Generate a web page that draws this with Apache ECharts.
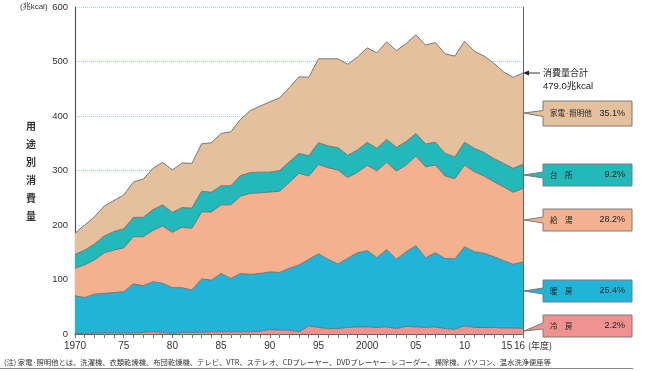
<!DOCTYPE html>
<html><head><meta charset="utf-8">
<script src="https://cdn.jsdelivr.net/npm/echarts@6/dist/echarts.min.js"></script>
<style>html,body{margin:0;padding:0;background:#fff}#c{width:650px;height:371px}</style>
</head><body><div id="c"></div>
<script>
const years = [];
for (let y = 1970; y <= 2016; y++) years.push(String(y));
const yTicks = [0, 100, 200, 300, 400, 500, 600];
// 冷房 (cooling)
const cooling = [1,1,1.5,2,2,2,2,3,4,3,1,3,3,3,4,4,4,4,4,5,8,7,7,4,15,12,10,10,12,13,13,12,13,10,14,13,12,13,10,8.6,15,12,12,12,11,11,10.5];
// 暖房 (heating)
const heating = [69,66,71.5,72.6,74,75.6,90,85.7,92,90,84,82,77.7,98,95,107,98,107,105.5,106,106,106,113.5,122.6,122,135,127,118.4,127,136,140,128,142,127,137,149,128,136,128.5,129.4,145,139,136,130,123.6,117,121.7];
// 給湯 (hot water)
const hotWater = [50.5,60,63,74.4,78,80.4,86.5,89.8,94,105,101.6,111,113.3,123,125,126,135,142,148.5,148,146.5,149,157.5,168.4,153,164,168,172.6,148,147.6,156.5,159.7,160,162,159,164.6,167,161,151.5,147,150,146.8,142,137.5,135.4,132,135.1];
// 台所 (kitchen)
const kitchen = [25.5,27,29,31,34,35,35.5,35.5,38,39,36.4,36,37,38,36,35,35,38,38,38,36.5,38,38,36.5,37,40,40,41,41,41,42.2,41,42,43.5,43,41.4,41.6,41.7,41.5,40,41.7,42.9,43,42.5,43,44,44.1];
// 家電・照明他 (appliances & lighting)
const appliances = [39,46,50,55,57,62,65,70,76,78,78,82,82,87,91,96,99,103,114,121,129,133,136,140.5,144,154,160,163,167,170.4,173.3,175.3,179,177.5,180,181,181.4,183.3,182.5,185,185.3,178.3,177,175,168,167,167.6];

const names = ['冷房','暖房','給湯','台所','家電・照明他'];
const colors = ['#f09290','#20b5d8','#f4b18f','#23b8b9','#e4c09c'];
const seriesData = [cooling, heating, hotWater, kitchen, appliances];

const FONT = '"Noto Sans CJK JP", "Noto Sans", sans-serif';
const LAT = '"Liberation Sans", "Noto Sans CJK JP", sans-serif';
const chart = echarts.init(document.getElementById('c'), null, {renderer:'canvas'});

function callout(tipY, top, bottom, fill, label, pct) {
  const mid = (top + bottom) / 2;
  return [
    {type:'polygon', shape:{points:[[524,tipY],[543,mid-3],[543,top],[632,top],[632,bottom],[543,bottom],[543,mid+3]]},
     style:{fill:fill, stroke:'#7a7a7a', lineWidth:1}, z:10},
    {type:'text', x:550, y:mid, style:{text:label, font:'7.5px '+FONT, fill:'#222', verticalAlign:'middle'}, z:11},
    {type:'text', x:625, y:mid, style:{text:pct, font:'9px '+LAT, fill:'#222', align:'right', verticalAlign:'middle'}, z:11}
  ];
}

const yTitleChars = ['用','途','別','消','費','量'];
const graphics = [];
yTitleChars.forEach((ch, i) => graphics.push({type:'text', x:31, y:126 + i*18, style:{text:ch, font:'bold 10px '+FONT, fill:'#333', align:'center', verticalAlign:'middle'}}));
graphics.push({type:'text', x:20, y:7, style:{text:'(兆kcal)', font:'8px '+LAT, fill:'#333', verticalAlign:'middle'}});
graphics.push(...callout(113, 101, 126, '#e4c09c', '家電·照明他', '35.1%'));
graphics.push(...callout(175, 164, 186, '#23b8b9', '台　所', '9.2%'));
graphics.push(...callout(220, 209, 231, '#f4b18f', '給　湯', '28.2%'));
graphics.push(...callout(291, 280, 302, '#20b5d8', '暖　房', '25.4%'));
graphics.push(...callout(331, 315, 337, '#f09290', '冷　房', '2.2%'));
graphics.push({type:'line', shape:{x1:540, y1:73, x2:528, y2:73}, style:{stroke:'#333', lineWidth:1}, z:10});
graphics.push({type:'polygon', shape:{points:[[523,73],[529,70.5],[529,75.5]]}, style:{fill:'#222'}, z:10});
graphics.push({type:'text', x:543, y:73, style:{text:'消費量合計', font:'9px '+FONT, fill:'#222', verticalAlign:'middle'}});
graphics.push({type:'text', x:543, y:86, style:{text:'479.0兆kcal', font:'9.5px '+LAT, fill:'#222', verticalAlign:'middle'}});
graphics.push({type:'text', x:4, y:362, style:{text:'(注) 家電·照明他とは、洗濯機、衣類乾燥機、布団乾燥機、テレビ、VTR、ステレオ、CDプレーヤー、DVDプレーヤー·レコーダー、掃除機、パソコン、温水洗浄便座等', font:'7.3px '+FONT, fill:'#333', verticalAlign:'middle'}});
graphics.push({type:'line', shape:{x1:0, y1:368.5, x2:633, y2:368.5}, style:{stroke:'#888', lineWidth:1.2}});

const option = {
  animation:false,
  backgroundColor:'#fff',
  textStyle:{fontFamily:LAT},
  grid:{left:75, right:127, top:7, bottom:37},
  xAxis:[{
    type:'category', data:years, boundaryGap:false,
    axisLine:{lineStyle:{color:'#666', width:1}},
    axisTick:{show:true, interval:0, length:4, inside:false, lineStyle:{color:'#777'}},
    axisLabel:{interval:0, margin:7, color:'#333', fontSize:10, fontFamily:LAT,
      formatter:function(v){
        const y = +v;
        if (y === 1970 || y === 2000) return String(y);
        if (y === 2015) return '{r|15}';
        if (y === 2016) return '{l|16 }{j|(年度)}';
        if (y % 5 === 0) return String(y).slice(2);
        return '';
      },
      rich:{r:{fontSize:10, color:'#333', fontFamily:LAT, padding:[0,13,0,0]},
            l:{fontSize:10, color:'#333', fontFamily:LAT, padding:[0,0,0,20]},
            j:{fontSize:9, color:'#333', fontFamily:FONT}}
    },
    splitLine:{show:false}
  },{
    type:'category', data:years, boundaryGap:false, position:'top',
    axisLine:{show:true, lineStyle:{color:'#666', width:1}},
    axisTick:{show:false}, axisLabel:{show:false}
  }],
  yAxis:[{
    type:'value', min:0, max:600, interval:100,
    axisLine:{show:true, lineStyle:{color:'#555', width:1.2}},
    axisTick:{show:false},
    axisLabel:{color:'#333', fontSize:9.5, margin:7, fontFamily:LAT,
      formatter:function(v){ return yTicks.indexOf(v) >= 0 ? String(v) : ''; }},
    splitLine:{show:true, lineStyle:{color:'#8dd3ef', type:'dotted', width:1}}
  },{
    type:'value', min:0, max:600, interval:100, position:'right',
    axisLine:{show:true, lineStyle:{color:'#666', width:1}},
    axisTick:{show:false}, axisLabel:{show:false}, splitLine:{show:false}
  }],
  series: seriesData.map((d, i) => ({
    name:names[i], type:'line', stack:'total', data:d,
    showSymbol:false, symbol:'none',
    lineStyle:{color:'#6d6d6d', width:0.9},
    areaStyle:{color:colors[i], opacity:1},
    z:2
  })),
  graphic:graphics
};
chart.setOption(option);
</script>
</body></html>
